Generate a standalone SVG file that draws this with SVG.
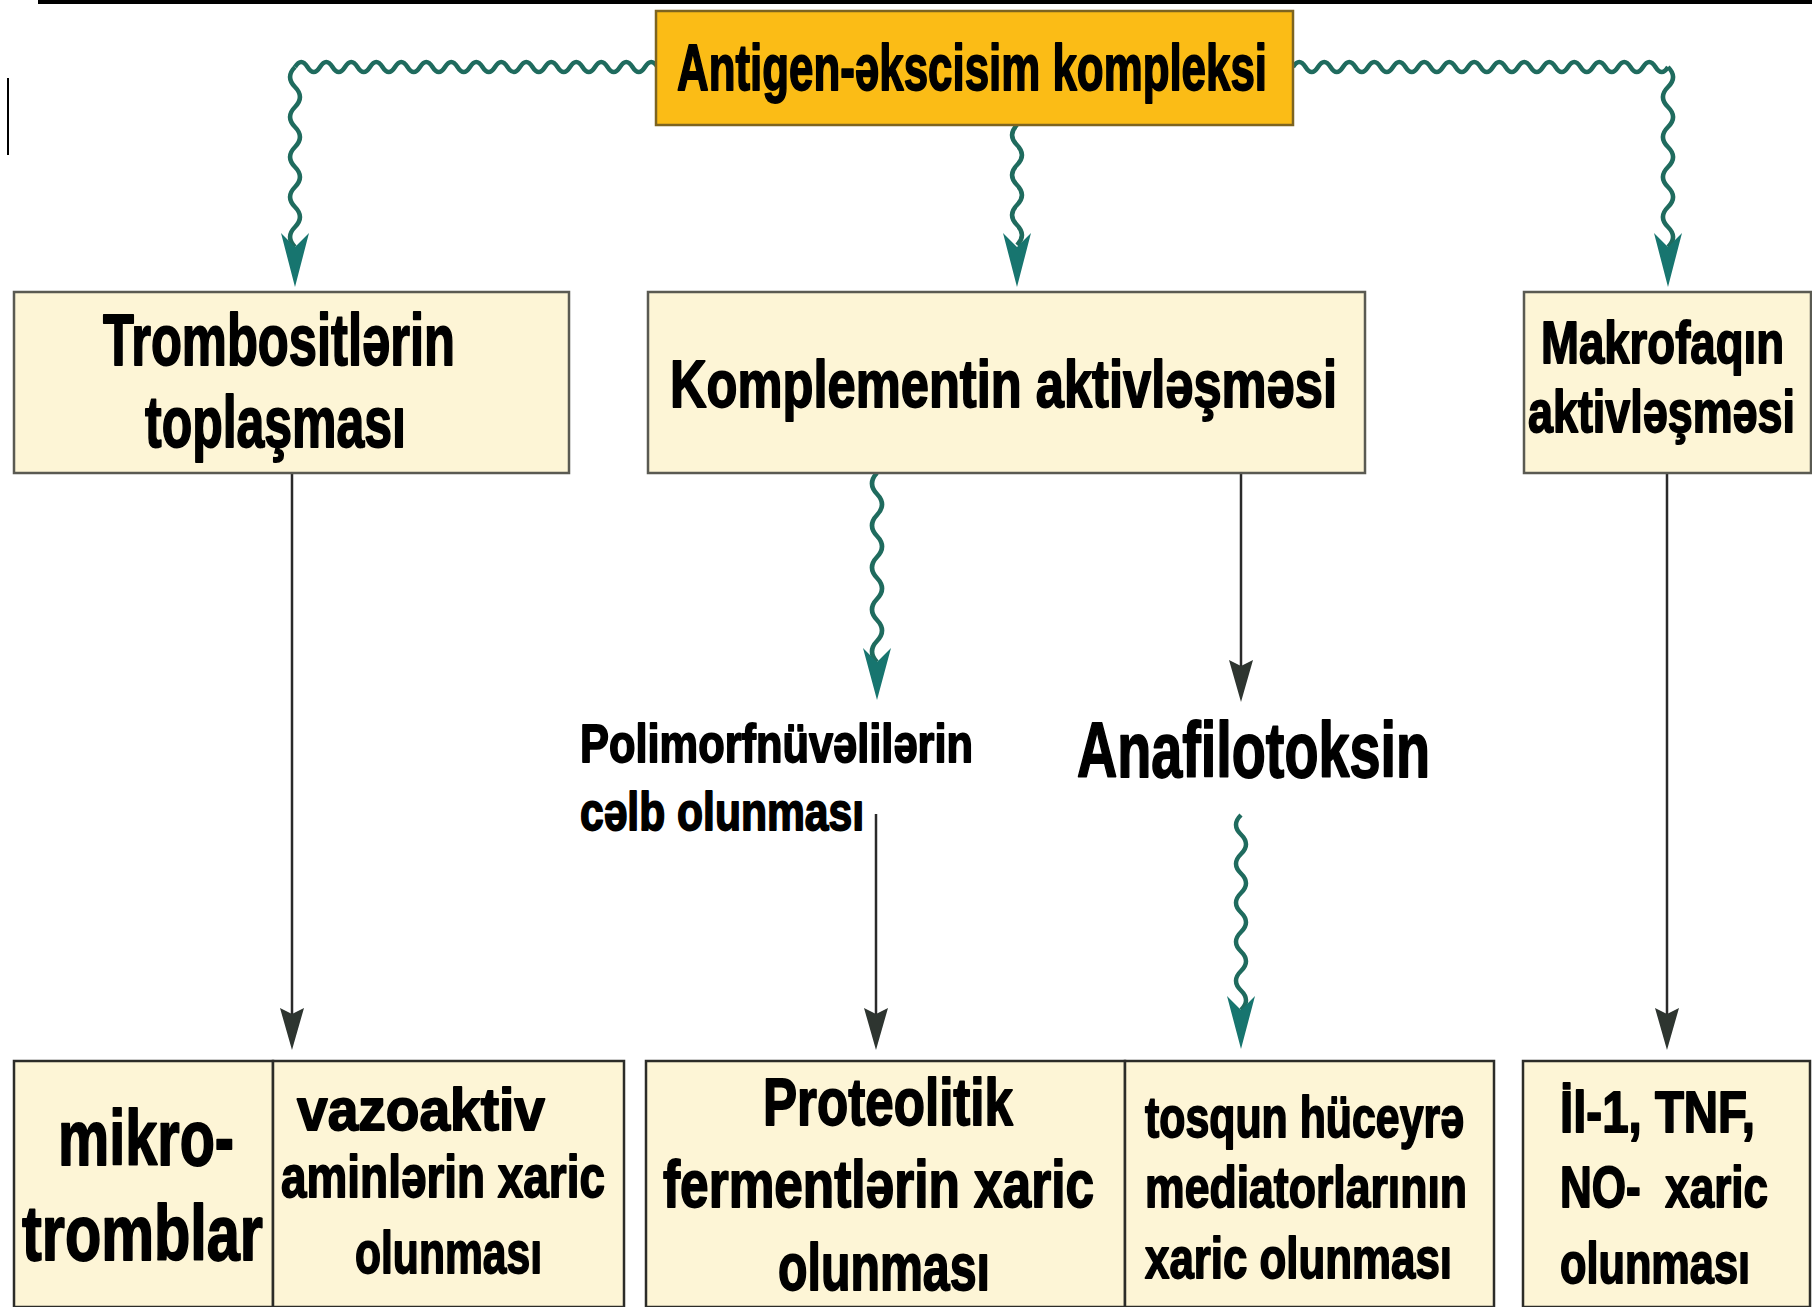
<svg xmlns="http://www.w3.org/2000/svg" width="1812" height="1307" viewBox="0 0 1812 1307">
  <defs>
    <style>
      .box { fill: #FDF5D6; stroke: #5a5a52; stroke-width: 2.5; }
      .low { stroke: #2c2c28; }
      .root { fill: #FBBC16; stroke: #7d6420; stroke-width: 2.5; }
      .t { font-family: "Liberation Sans Narrow", "Liberation Sans", "DejaVu Sans Condensed", sans-serif; font-weight: bold; fill: #000; stroke: #000; stroke-width: 1.8; stroke-linejoin: round; }
      .wave { fill: none; stroke: #1f6b5e; stroke-width: 4.5; stroke-linejoin: round; }
      .line { fill: none; stroke: #2a2a2a; stroke-width: 2.5; }
      .headT { fill: #17756f; }
      .headK { fill: #2e3530; }
    </style>
  </defs>
  <rect width="1812" height="1307" fill="#ffffff"/>

  <!-- frame marks -->
  <rect x="38" y="0" width="1774" height="4" fill="#000"/>
  <rect x="7" y="78" width="2" height="77" fill="#000"/>

  <!-- connectors -->
  <g id="connectors">
    <!-- root -> left branch -->
    <path class="wave" d="M657.5 67 q-6.25 -10 -12.5 0 t-12.5 0 t-12.5 0 t-12.5 0 t-12.5 0 t-12.5 0 t-12.5 0 t-12.5 0 t-12.5 0 t-12.5 0 t-12.5 0 t-12.5 0 t-12.5 0 t-12.5 0 t-12.5 0 t-12.5 0 t-12.5 0 t-12.5 0 t-12.5 0 t-12.5 0 t-12.5 0 t-12.5 0 t-12.5 0 t-12.5 0 t-12.5 0 t-12.5 0 t-12.5 0 t-12.5 0 t-12.5 0"/>
    <path class="wave" d="M295 67 q-10 10 0 20 t0 20 t0 20 t0 20 t0 20 t0 20 t0 20 t0 20 t0 20"/>
    <path class="headT" d="M295 287 L281 233 L295 247 L309 233 Z"/>

    <!-- root -> center branch -->
    <path class="wave" d="M1017 125 q-10 10 0 20 t0 20 t0 20 t0 20 t0 20 t0 20"/>
    <path class="headT" d="M1017 287 L1003 233 L1017 247 L1031 233 Z"/>

    <!-- root -> right branch -->
    <path class="wave" d="M1293 67 q6.25 -10 12.5 0 t12.5 0 t12.5 0 t12.5 0 t12.5 0 t12.5 0 t12.5 0 t12.5 0 t12.5 0 t12.5 0 t12.5 0 t12.5 0 t12.5 0 t12.5 0 t12.5 0 t12.5 0 t12.5 0 t12.5 0 t12.5 0 t12.5 0 t12.5 0 t12.5 0 t12.5 0 t12.5 0 t12.5 0 t12.5 0 t12.5 0 t12.5 0 t12.5 0 t12.5 0"/>
    <path class="wave" d="M1668 67 q10 10 0 20 t0 20 t0 20 t0 20 t0 20 t0 20 t0 20 t0 20 t0 20"/>
    <path class="headT" d="M1668 287 L1654 233 L1668 247 L1682 233 Z"/>

    <!-- platelets -> microthrombi -->
    <line class="line" x1="292" y1="473" x2="292" y2="1015"/>
    <path class="headK" d="M292 1050 L280 1008 L292 1014 L304 1008 Z"/>

    <!-- complement -> PMN recruitment -->
    <path class="wave" d="M877 473 q-10 10.5 0 21 t0 21 t0 21 t0 21 t0 21 t0 21 t0 21 t0 21 t0 21"/>
    <path class="headT" d="M877 700 L863 648 L877 662 L891 648 Z"/>

    <!-- complement -> anaphylatoxin -->
    <line class="line" x1="1241" y1="473" x2="1241" y2="666"/>
    <path class="headK" d="M1241 702 L1229 660 L1241 666 L1253 660 Z"/>

    <!-- PMN recruitment -> proteolytic enzymes -->
    <line class="line" x1="876" y1="814" x2="876" y2="1015"/>
    <path class="headK" d="M876 1050 L864 1008 L876 1014 L888 1008 Z"/>

    <!-- anaphylatoxin -> mast cell mediators -->
    <path class="wave" d="M1241 815 q-10 9.75 0 19.5 t0 19.5 t0 19.5 t0 19.5 t0 19.5 t0 19.5 t0 19.5 t0 19.5 t0 19.5 t0 19.5"/>
    <path class="headT" d="M1241 1049 L1227 996 L1241 1010 L1255 996 Z"/>

    <!-- macrophage -> cytokines -->
    <line class="line" x1="1667" y1="473" x2="1667" y2="1015"/>
    <path class="headK" d="M1667 1050 L1655 1008 L1667 1014 L1679 1008 Z"/>
  </g>

  <!-- root node -->
  <g id="antigen-complex">
    <rect class="root" x="656" y="11" width="637" height="114"/>
    <text class="t" x="677" y="90" font-size="64" textLength="590" lengthAdjust="spacingAndGlyphs">Antigen-əkscisim kompleksi</text>
  </g>

  <!-- second row -->
  <g id="platelet-aggregation">
    <rect class="box" x="14" y="292" width="555" height="181"/>
    <text class="t" x="103" y="365" font-size="72" textLength="352" lengthAdjust="spacingAndGlyphs">Trombositlərin</text>
    <text class="t" x="145" y="447" font-size="72" textLength="261" lengthAdjust="spacingAndGlyphs">toplaşması</text>
  </g>

  <g id="complement-activation">
    <rect class="box" x="648" y="292" width="717" height="181"/>
    <text class="t" x="670" y="407" font-size="67" textLength="667" lengthAdjust="spacingAndGlyphs">Komplementin aktivləşməsi</text>
  </g>

  <g id="macrophage-activation">
    <rect class="box" x="1524" y="292" width="287" height="181"/>
    <text class="t" x="1541" y="363" font-size="59" textLength="243" lengthAdjust="spacingAndGlyphs">Makrofaqın</text>
    <text class="t" x="1528" y="432" font-size="59" textLength="267" lengthAdjust="spacingAndGlyphs">aktivləşməsi</text>
  </g>

  <!-- intermediate labels -->
  <g id="pmn-recruitment">
    <text class="t" x="580" y="762" font-size="54" textLength="393" lengthAdjust="spacingAndGlyphs">Polimorfnüvəlilərin</text>
    <text class="t" x="580" y="830" font-size="54" textLength="284" lengthAdjust="spacingAndGlyphs">cəlb olunması</text>
  </g>

  <g id="anaphylatoxin">
    <text class="t" x="1077" y="777" font-size="78" textLength="353" lengthAdjust="spacingAndGlyphs">Anafilotoksin</text>
  </g>

  <!-- bottom row -->
  <g id="microthrombi">
    <rect class="box low" x="14" y="1061" width="259" height="246"/>
    <text class="t" x="58" y="1165" font-size="78" textLength="176" lengthAdjust="spacingAndGlyphs">mikro-</text>
    <text class="t" x="22" y="1260" font-size="78" textLength="241" lengthAdjust="spacingAndGlyphs">tromblar</text>
  </g>

  <g id="vasoactive-amines">
    <rect class="box low" x="273" y="1061" width="351" height="246"/>
    <text class="t" x="297" y="1130" font-size="60" textLength="248" lengthAdjust="spacingAndGlyphs">vazoaktiv</text>
    <text class="t" x="281" y="1197" font-size="60" textLength="324" lengthAdjust="spacingAndGlyphs">aminlərin xaric</text>
    <text class="t" x="355" y="1273" font-size="60" textLength="187" lengthAdjust="spacingAndGlyphs">olunması</text>
  </g>

  <g id="proteolytic-enzymes">
    <rect class="box low" x="646" y="1061" width="479" height="246"/>
    <text class="t" x="763" y="1125" font-size="66" textLength="250" lengthAdjust="spacingAndGlyphs">Proteolitik</text>
    <text class="t" x="663" y="1207" font-size="66" textLength="431" lengthAdjust="spacingAndGlyphs">fermentlərin xaric</text>
    <text class="t" x="778" y="1290" font-size="66" textLength="212" lengthAdjust="spacingAndGlyphs">olunması</text>
  </g>

  <g id="mast-cell-mediators">
    <rect class="box low" x="1125" y="1061" width="369" height="246"/>
    <text class="t" x="1145" y="1137" font-size="58" textLength="319" lengthAdjust="spacingAndGlyphs">tosqun hüceyrə</text>
    <text class="t" x="1145" y="1207" font-size="58" textLength="322" lengthAdjust="spacingAndGlyphs">mediatorlarının</text>
    <text class="t" x="1145" y="1278" font-size="58" textLength="307" lengthAdjust="spacingAndGlyphs">xaric olunması</text>
  </g>

  <g id="cytokines">
    <rect class="box low" x="1523" y="1061" width="287" height="246"/>
    <text class="t" x="1560" y="1132" font-size="57" textLength="195" lengthAdjust="spacingAndGlyphs">İl-1, TNF,</text>
    <text class="t" x="1560" y="1207" font-size="57" textLength="208" lengthAdjust="spacingAndGlyphs" xml:space="preserve">NO-  xaric</text>
    <text class="t" x="1560" y="1283" font-size="57" textLength="190" lengthAdjust="spacingAndGlyphs">olunması</text>
  </g>
</svg>
